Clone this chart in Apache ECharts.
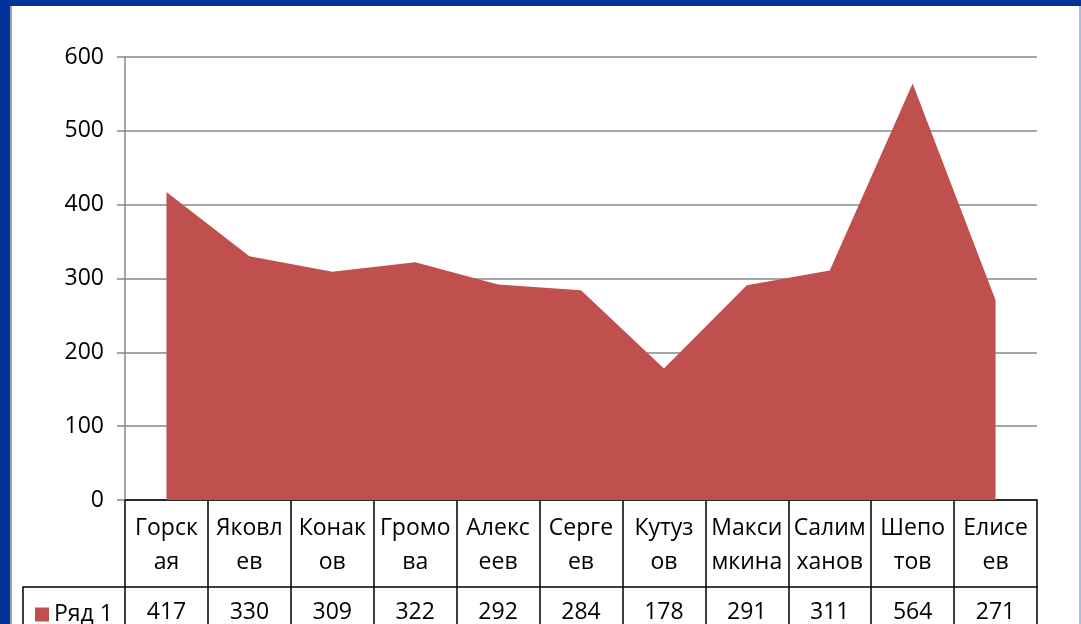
<!DOCTYPE html>
<html>
<head>
<meta charset="utf-8">
<script src="https://cdn.jsdelivr.net/npm/echarts@6/dist/echarts.min.js"></script>
<style>
  html, body { margin: 0; padding: 0; background: #fff; }
  #wrap { position: relative; width: 1081px; height: 624px; overflow: hidden; }
  #chart { position: absolute; left: 0; top: 0; width: 1081px; height: 624px; }
  .edge { position: absolute; }
</style>
</head>
<body>
<div id="wrap">
  <div id="chart"></div>
  <div class="edge" style="left:0;top:0;width:1081px;height:6px;background:#00339a"></div>
  <div class="edge" style="left:0;top:0;width:10px;height:624px;background:#00339a"></div>
  <div class="edge" style="left:10px;top:6px;width:2px;height:618px;background:#a0a0a0"></div>
  <div class="edge" style="left:1079px;top:6px;width:2px;height:618px;background:#a9bde6"></div>
</div>
<script>
const categories = ['Горск\nая', 'Яковл\nев', 'Конак\nов', 'Громо\nва', 'Алекс\nеев', 'Серге\nев',
  'Кутуз\nов', 'Макси\nмкина', 'Салим\nханов', 'Шепо\nтов', 'Елисе\nев']
const values = [417, 330, 309, 322, 292, 284, 178, 291, 311, 564, 271]
const seriesName = 'Ряд 1'

const font = '"Open Sans", "Noto Sans", sans-serif'
const chart = echarts.init(document.getElementById('chart'))

const gridLeft = 125
const gridBottom = 124
const rowOffset = 87
const fs = 23

const option = {
  animation: false,
  textStyle: { fontFamily: font },
  grid: { left: gridLeft, right: 44, top: 57, bottom: gridBottom },
  legend: {
    left: 30,
    top: 598,
    icon: 'rect',
    itemWidth: 14,
    itemHeight: 14,
    itemGap: 6,
    textStyle: { fontSize: fs, color: '#000', fontFamily: font },
    data: [seriesName]
  },
  xAxis: [
    {
      type: 'category',
      position: 'bottom',
      boundaryGap: true,
      data: categories,
      axisLine: { lineStyle: { color: '#000', width: 1.5 } },
      axisTick: { show: true, length: 130, lineStyle: { color: '#000', width: 1.5 } },
      axisLabel: { fontSize: fs, color: '#000', lineHeight: 34, margin: 11, interval: 0, fontFamily: font }
    },
    {
      type: 'category',
      position: 'bottom',
      offset: rowOffset,
      boundaryGap: true,
      data: values.map(String),
      axisLine: { lineStyle: { color: '#000', width: 1.5 } },
      axisTick: { show: false },
      axisLabel: { fontSize: fs, color: '#000', margin: 14, interval: 0, fontFamily: font }
    }
  ],
  yAxis: {
    type: 'value',
    min: 0,
    max: 600,
    interval: 100,
    axisLine: { show: true, lineStyle: { color: '#888', width: 1.5 } },
    axisTick: { show: true, length: 8, lineStyle: { color: '#888', width: 1.5 } },
    axisLabel: { fontSize: fs, color: '#000', margin: 21, fontFamily: font },
    splitLine: { lineStyle: { color: '#888', width: 1.5 } }
  },
  graphic: [
    {
      type: 'polyline',
      shape: { points: [[gridLeft, 624 - gridBottom + rowOffset], [23, 624 - gridBottom + rowOffset], [23, 630]] },
      style: { stroke: '#000', lineWidth: 1.5, fill: null }
    }
  ],
  series: [
    {
      name: seriesName,
      type: 'line',
      data: values,
      symbol: 'none',
      itemStyle: { color: '#c0504d' },
      lineStyle: { width: 0 },
      areaStyle: { color: '#c0504d', opacity: 1 }
    }
  ]
}
chart.setOption(option)
</script>
</body>
</html>
